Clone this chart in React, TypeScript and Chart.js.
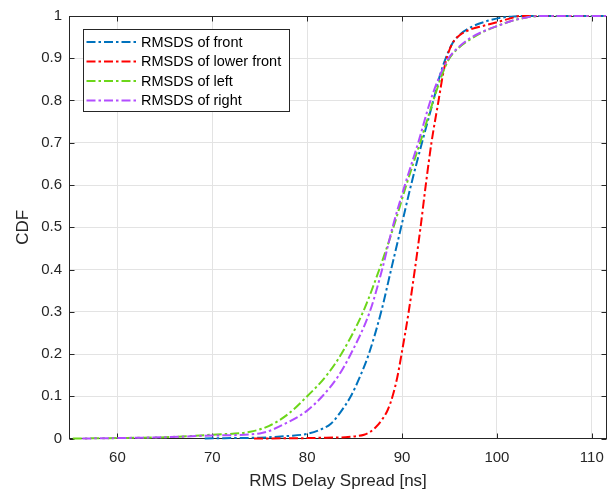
import React, { useEffect, useRef } from "react";
import { Chart, registerables } from "chart.js";

Chart.register(...registerables);

// ---- data ----
const seriesLabels = ["RMSDS of front", "RMSDS of lower front", "RMSDS of left", "RMSDS of right"];
const seriesColors = ["#0072BD", "#FF0000", "#6CD61A", "#B24DFF"];

const frontX = [69.2, 72, 75, 78, 80, 81.5, 82.5, 83.5, 84.6, 85.6, 86.5, 87.8, 88.85, 89.9, 90.95, 92.1, 93.3, 94.0, 94.6, 95.3, 96.2, 97.4, 98.8, 100.2, 101.8, 103.5, 111.5];
const frontY = [0, 0.001, 0.002, 0.006, 0.011, 0.022, 0.035, 0.062, 0.1, 0.148, 0.2, 0.3, 0.4, 0.5, 0.6, 0.7, 0.8, 0.86, 0.9, 0.935, 0.958, 0.975, 0.987, 0.995, 0.999, 1, 1];

const lowerX = [74.4, 78, 80, 82, 84, 85, 86, 86.6, 87.2, 87.9, 88.5, 89.0, 89.5, 89.95, 90.7, 91.35, 91.95, 92.5, 93.1, 93.85, 94.3, 94.7, 95.3, 96.1, 97.2, 98.6, 100.3, 101.5, 102.5, 111.5];
const lowerY = [0, 0.0005, 0.001, 0.002, 0.003, 0.005, 0.009, 0.015, 0.026, 0.045, 0.068, 0.1, 0.145, 0.2, 0.3, 0.4, 0.5, 0.6, 0.7, 0.8, 0.86, 0.9, 0.935, 0.955, 0.968, 0.977, 0.987, 0.995, 1, 1];

const leftX = [55.3, 60, 65, 70, 74, 76, 78, 80, 82, 83.6, 85.9, 87.6, 89.1, 90.45, 91.9, 93.3, 94.2, 95.0, 96.0, 97.2, 98.6, 100, 101.5, 103, 104.5, 111.5];
const leftY = [0, 0.001, 0.003, 0.009, 0.016, 0.03, 0.058, 0.1, 0.148, 0.2, 0.3, 0.4, 0.5, 0.6, 0.7, 0.8, 0.86, 0.9, 0.925, 0.945, 0.963, 0.976, 0.988, 0.996, 1, 1];

const rightX = [56.3, 60, 65, 70, 75, 78, 80, 81.6, 83.2, 84.6, 86.6, 87.9, 89.0, 90.3, 91.7, 93.0, 94.0, 94.9, 95.9, 97.0, 98.5, 100, 101.5, 103, 104.5, 111.5];
const rightY = [0, 0.001, 0.003, 0.007, 0.012, 0.039, 0.066, 0.1, 0.145, 0.2, 0.3, 0.4, 0.5, 0.6, 0.7, 0.8, 0.86, 0.9, 0.925, 0.945, 0.963, 0.976, 0.988, 0.996, 1, 1];

const xAxisTitle = "RMS Delay Spread [ns]";
const yAxisTitle = "CDF";
const xMin = 54.9;
const xMax = 111.6;
const xStep = 10;
const yMin = 0;
const yMax = 1;
const yStep = 0.1;

const seriesX = [frontX, lowerX, leftX, rightX];
const seriesY = [frontY, lowerY, leftY, rightY];

const FONT = '"Liberation Sans", Arial, Helvetica, sans-serif';
const AXIS_COLOR = "#262626";
const DASH = [9, 3, 2.5, 3];

const boxPlugin = {
  id: "matlabBox",
  beforeDatasetsDraw(chart: any) {
    const { ctx, chartArea, scales } = chart;
    const { left, right, top, bottom } = chartArea;
    const x = scales.x;
    const y = scales.y;
    const L = Math.round(left) + 0.5;
    const R = Math.round(right) - 0.5;
    const T = Math.round(top) + 0.5;
    const B = Math.round(bottom) - 0.5;
    ctx.save();
    ctx.strokeStyle = AXIS_COLOR;
    ctx.lineWidth = 1;
    ctx.beginPath();
    const tl = 5;
    x.ticks.forEach((t: any) => {
      const px = Math.round(x.getPixelForValue(t.value)) + 0.5;
      ctx.moveTo(px, B);
      ctx.lineTo(px, B - tl);
      ctx.moveTo(px, T);
      ctx.lineTo(px, T + tl);
    });
    y.ticks.forEach((t: any) => {
      const py = Math.round(y.getPixelForValue(t.value)) + 0.5;
      ctx.moveTo(L, py);
      ctx.lineTo(L + tl, py);
      ctx.moveTo(R, py);
      ctx.lineTo(R - tl, py);
    });
    ctx.stroke();
    ctx.strokeRect(L, T, R - L, B - T);
    ctx.restore();
  },
};

const legendPlugin = {
  id: "boxLegend",
  afterDraw(chart: any) {
    const { ctx, chartArea } = chart;
    const bx = Math.round(chartArea.left) + 14.5;
    const by = Math.round(chartArea.top) + 13.5;
    const bw = 206;
    const bh = 82;
    ctx.save();
    ctx.fillStyle = "#ffffff";
    ctx.fillRect(bx, by, bw, bh);
    ctx.strokeStyle = AXIS_COLOR;
    ctx.lineWidth = 1;
    ctx.strokeRect(bx, by, bw, bh);
    ctx.font = `14.5px ${FONT}`;
    ctx.textBaseline = "middle";
    ctx.textAlign = "left";
    chart.data.datasets.forEach((ds: any, i: number) => {
      const cy = by + 12.5 + i * 19.5;
      ctx.strokeStyle = ds.borderColor;
      ctx.lineWidth = 2;
      ctx.setLineDash(ds.borderDash);
      ctx.beginPath();
      ctx.moveTo(bx + 3, cy);
      ctx.lineTo(bx + 54, cy);
      ctx.stroke();
      ctx.setLineDash([]);
      ctx.fillStyle = "#000000";
      ctx.fillText(ds.label, bx + 57.5, cy + 0.5);
    });
    ctx.restore();
  },
};

export default function App() {
  const ref = useRef<HTMLCanvasElement>(null);

  useEffect(() => {
    const canvas = ref.current;
    if (!canvas) return;
    const drawOrder = [3, 2, 1, 0];
    const datasets = seriesLabels.map((label, i) => ({
      label,
      data: seriesX[i].map((xv, j) => ({ x: xv, y: seriesY[i][j] })),
      borderColor: seriesColors[i],
      backgroundColor: seriesColors[i],
      borderWidth: 2,
      borderDash: DASH,
      pointRadius: 0,
      pointHoverRadius: 0,
      fill: false,
      cubicInterpolationMode: "monotone" as const,
      clip: false as any,
      order: drawOrder[i],
    }));

    const chart = new Chart(canvas, {
      type: "line",
      data: { datasets },
      options: {
        animation: false,
        responsive: false,
        devicePixelRatio: 1,
        events: [],
        layout: { padding: { top: 15, right: 7, left: 0, bottom: 0 } },
        plugins: {
          legend: { display: false },
          tooltip: { enabled: false },
        },
        scales: {
          x: {
            type: "linear",
            min: xMin,
            max: xMax,
            afterFit: (s: any) => {
              s.height = 55.5;
            },
            ticks: {
              stepSize: xStep,
              includeBounds: false,
              padding: 10,
              color: AXIS_COLOR,
              font: { family: FONT, size: 15 },
              maxRotation: 0,
              autoSkip: false,
            },
            grid: {
              color: "#e3e3e3",
              lineWidth: 1,
              drawTicks: false,
            },
            border: { display: false },
            title: {
              display: true,
              text: xAxisTitle,
              color: AXIS_COLOR,
              font: { family: FONT, size: 17 },
              padding: { top: 0, bottom: 2 },
            },
          },
          y: {
            type: "linear",
            min: yMin,
            max: yMax,
            afterFit: (s: any) => {
              s.width = 69;
            },
            ticks: {
              stepSize: yStep,
              padding: 7,
              color: AXIS_COLOR,
              font: { family: FONT, size: 15 },
              autoSkip: false,
              callback: (v: any) => String(Number(Number(v).toFixed(1))),
            },
            grid: {
              color: "#e3e3e3",
              lineWidth: 1,
              drawTicks: false,
            },
            border: { display: false },
            title: {
              display: true,
              text: yAxisTitle,
              color: AXIS_COLOR,
              font: { family: FONT, size: 17 },
              padding: { top: 13, bottom: 0 },
            },
          },
        },
      },
      plugins: [boxPlugin, legendPlugin],
    });

    return () => chart.destroy();
  }, []);

  return (
    <div style={{ position: "fixed", left: 0, top: 0, width: 614, height: 494, background: "#ffffff" }}>
      <canvas ref={ref} width={614} height={494} style={{ display: "block", width: 614, height: 494 }} />
    </div>
  );
}
